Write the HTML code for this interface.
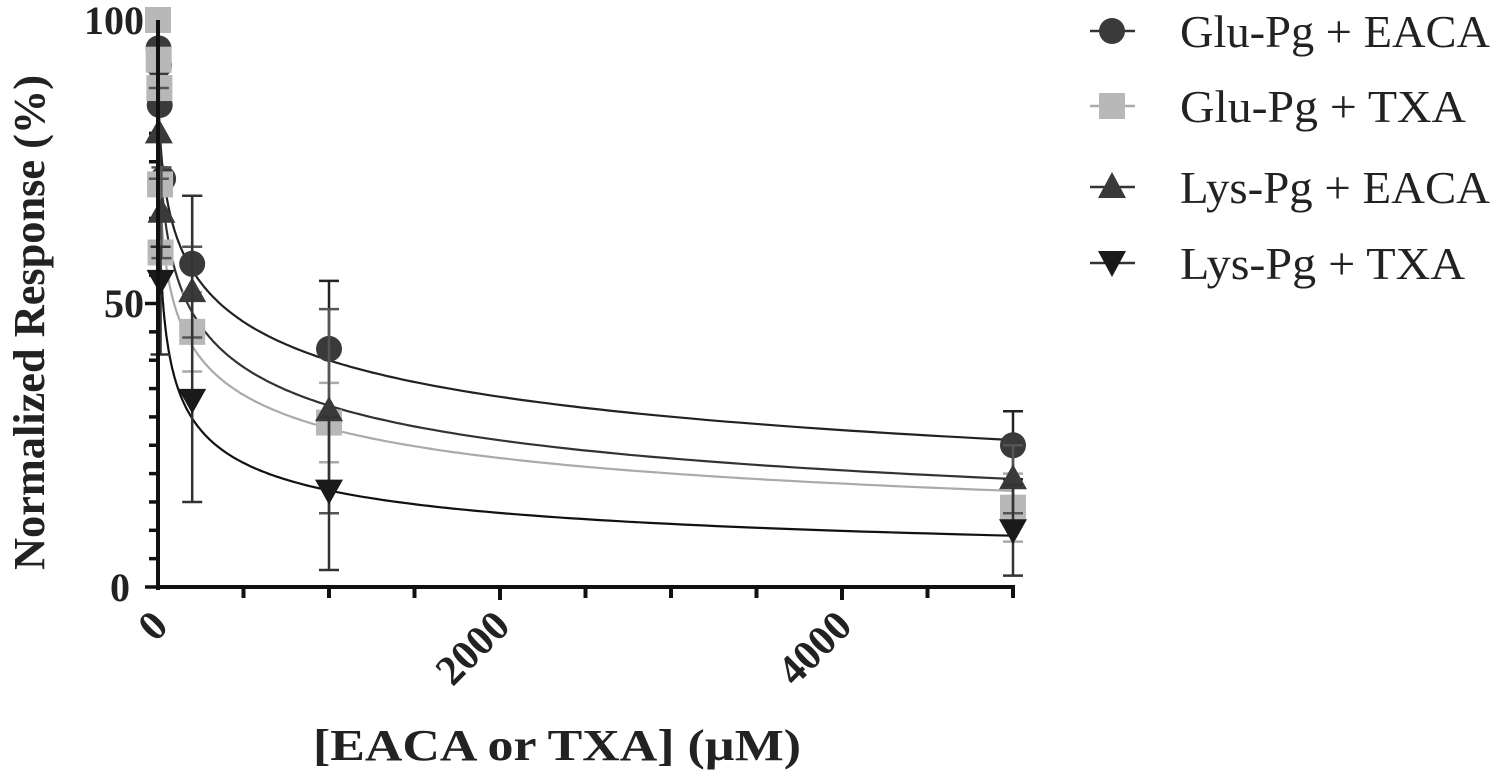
<!DOCTYPE html>
<html><head><meta charset="utf-8"><style>
html,body{margin:0;padding:0;background:#fff;}
svg{display:block;font-family:"Liberation Serif",serif;}
</style></head><body>
<svg id="s" width="1502" height="780" viewBox="0 0 1502 780" xmlns="http://www.w3.org/2000/svg">
<g id="g"></g>
<g stroke="#111" stroke-width="4" fill="none">
<line x1="158" y1="20" x2="158" y2="590"/>
<line x1="156" y1="587" x2="1015" y2="587"/>
</g>
<g font-weight="bold" font-size="40" fill="#222" text-anchor="end">
<text x="144" y="34" textLength="60" lengthAdjust="spacingAndGlyphs">100</text>
<text x="144" y="317">50</text>
<text x="130" y="601">0</text>
</g>
<g font-weight="bold" font-size="42" fill="#222" text-anchor="end">
<text transform="translate(170,628) rotate(-45)">0</text>
<text transform="translate(512,628) rotate(-45)">2000</text>
<text transform="translate(854,628) rotate(-45)">4000</text>
</g>
<text x="313" y="760" font-weight="bold" font-size="44" fill="#222" textLength="488" lengthAdjust="spacingAndGlyphs">[EACA or TXA] (µM)</text>
<text transform="translate(44,570) rotate(-90)" font-weight="bold" font-size="44" fill="#222" textLength="495" lengthAdjust="spacingAndGlyphs">Normalized Response (%)</text>
<g stroke-width="2.5">
<line x1="1090" y1="31" x2="1135" y2="31" stroke="#333"/><circle cx="1112" cy="31" r="13" fill="#3a3a3a"/>
<line x1="1090" y1="106" x2="1135" y2="106" stroke="#aaa"/><rect x="1099" y="93" width="26" height="26" fill="#b8b8b8"/>
<line x1="1090" y1="187" x2="1135" y2="187" stroke="#333"/><polygon points="1112,172 1126,198 1098,198" fill="#3a3a3a"/>
<line x1="1090" y1="263" x2="1135" y2="263" stroke="#333"/><polygon points="1098,251 1126,251 1112,277" fill="#1a1a1a"/>
</g>
<g font-size="46" fill="#222">
<text x="1180" y="47" textLength="310" lengthAdjust="spacingAndGlyphs">Glu-Pg + EACA</text>
<text x="1180" y="122" textLength="286" lengthAdjust="spacingAndGlyphs">Glu-Pg + TXA</text>
<text x="1180" y="203" textLength="310" lengthAdjust="spacingAndGlyphs">Lys-Pg + EACA</text>
<text x="1180" y="279" textLength="285" lengthAdjust="spacingAndGlyphs">Lys-Pg + TXA</text>
</g>
</svg>
<script>
const NS="http://www.w3.org/2000/svg",g=document.getElementById('g');
const X=c=>158+c*0.171,Y=v=>587-v*5.67;
function el(t,a){const e=document.createElementNS(NS,t);for(const k in a)e.setAttribute(k,a[k]);g.appendChild(e);return e;}
for(let i=1;i<=10;i++){el('line',{x1:X(i*500),y1:587,x2:X(i*500),y2:i%4==0?600:598,stroke:'#111','stroke-width':4});}
for(let v=5;v<=100;v+=5){el('line',{x1:v%50==0?145:149,y1:Y(v),x2:158,y2:Y(v),stroke:'#111','stroke-width':3.5});}
el('line',{x1:145,y1:Y(0),x2:158,y2:Y(0),stroke:'#111','stroke-width':3.5});
const series=[
 {K:362,n:0.4,col:'#222',lc:'#222',m:'c',f:'#3a3a3a',pts:[[0,100],[3,95],[6,92],[10,85],[30,72],[200,57,69,45],[1000,42,54,30],[5000,25,31,19]]},
 {K:94,n:0.4,col:'#aaa',lc:'#aaa',m:'s',f:'#b8b8b8',pts:[[0,100],[4,93],[8,88],[12,71],[15,59],[200,45,52,38],[1000,29,36,22],[5000,14,20,8]]},
 {K:173,n:0.43,col:'#333',lc:'#555',m:'t',f:'#3a3a3a',pts:[[5,80,88,72],[20,66,74,58],[200,52,60,44],[1000,31,49,13],[5000,19,25,13]]},
 {K:29.6,n:0.45,col:'#111',lc:'#333',m:'d',f:'#1a1a1a',pts:[[15,54,60,41],[200,33,69,15],[1000,17,30,3],[5000,10,18,2]]},
];
series.forEach(s=>{
 let d='';for(let i=0;i<=400;i++){const c=Math.pow(10,i/400*Math.log10(5000));const v=100/(1+Math.pow(c/s.K,s.n));d+=(i?'L':'M')+X(c).toFixed(1)+','+Y(v).toFixed(1);}
 el('path',{d:d,fill:'none',stroke:s.col,'stroke-width':2.2});
});
series.forEach(s=>{
 s.pts.forEach(p=>{const x=X(p[0]),y=Y(p[1]);
  if(p.length>2){el('line',{x1:x,y1:Y(p[2]),x2:x,y2:Y(p[3]),stroke:s.lc,'stroke-width':2.5});
   [p[2],p[3]].forEach(v=>el('line',{x1:x-10,y1:Y(v),x2:x+10,y2:Y(v),stroke:s.lc,'stroke-width':2.5}));}
  if(s.m=='c')el('circle',{cx:x,cy:y,r:13,fill:s.f});
  if(s.m=='s')el('rect',{x:x-13,y:y-13,width:26,height:26,fill:s.f});
  if(s.m=='t')el('polygon',{points:`${x},${y-15} ${x+14},${y+10} ${x-14},${y+10}`,fill:s.f});
  if(s.m=='d')el('polygon',{points:`${x-14},${y-11} ${x+14},${y-11} ${x},${y+14}`,fill:s.f});
 });
});
</script>
</body></html>
